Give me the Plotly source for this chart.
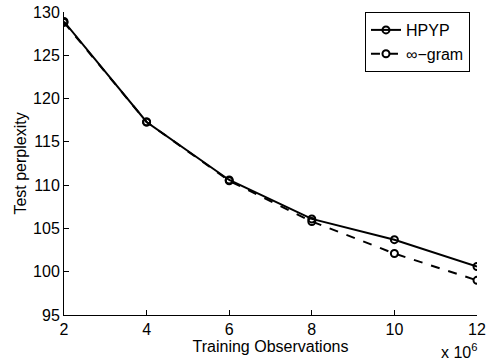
import plotly.graph_objects as go

x_obs = [2, 4, 6, 8, 10, 12]
hpyp = [128.9, 117.3, 110.6, 106.1, 103.7, 100.6]
infgram = [128.8, 117.3, 110.5, 105.8, 102.1, 99.0]
x_ticks = [2, 4, 6, 8, 10, 12]
y_ticks = [95, 100, 105, 110, 115, 120, 125, 130]

FONT = "Liberation Sans, Arial, Helvetica, sans-serif"

fig = go.Figure()
fig.add_trace(go.Scatter(
    x=x_obs, y=hpyp, name="HPYP", mode="lines+markers",
    line=dict(color="black", width=2),
    marker=dict(symbol="circle-open", size=7, color="black", line=dict(width=2)),
))
fig.add_trace(go.Scatter(
    x=x_obs, y=infgram, name="∞−gram", mode="lines+markers",
    line=dict(color="black", width=2, dash="dash"),
    marker=dict(symbol="circle-open", size=7, color="black", line=dict(width=2)),
))

fig.update_layout(
    width=489, height=363,
    margin=dict(l=64, r=12, t=12, b=48, autoexpand=False),
    paper_bgcolor="white", plot_bgcolor="white",
    font=dict(family=FONT, size=16, color="black"),
    showlegend=True,
    legend=dict(
        x=0.983, y=1.0, xanchor="right", yanchor="top",
        bgcolor="white", bordercolor="black", borderwidth=1,
        font=dict(size=16), tracegroupgap=0, itemwidth=30,
    ),
    xaxis=dict(
        range=[2, 12], tickvals=x_ticks, ticktext=[str(v) for v in x_ticks],
        ticks="inside", ticklen=5, tickcolor="black",
        showline=True, linecolor="black", linewidth=1,
        showgrid=False, zeroline=False, automargin=False,
        title=dict(text="Training Observations", standoff=0, font=dict(size=16)),
        tickfont=dict(size=16),
    ),
    yaxis=dict(
        range=[95, 130], tickvals=y_ticks, ticktext=[str(v) for v in y_ticks],
        ticks="inside", ticklen=5, tickcolor="black",
        showline=True, linecolor="black", linewidth=1,
        showgrid=False, zeroline=False, automargin=False,
        title=dict(text="Test perplexity", standoff=2, font=dict(size=16)),
        tickfont=dict(size=16),
    ),
)

fig.add_annotation(
    x=1.0, y=0, xref="paper", yref="paper", xanchor="right", yanchor="top",
    yshift=-24, xshift=2,
    text="x 10<sup>6</sup>", showarrow=False, font=dict(size=16, family=FONT),
)

fig.write_html(
    "out.html",
    config={"displayModeBar": False},
    post_script="document.body.style.margin='0';document.body.style.overflow='hidden';",
)
